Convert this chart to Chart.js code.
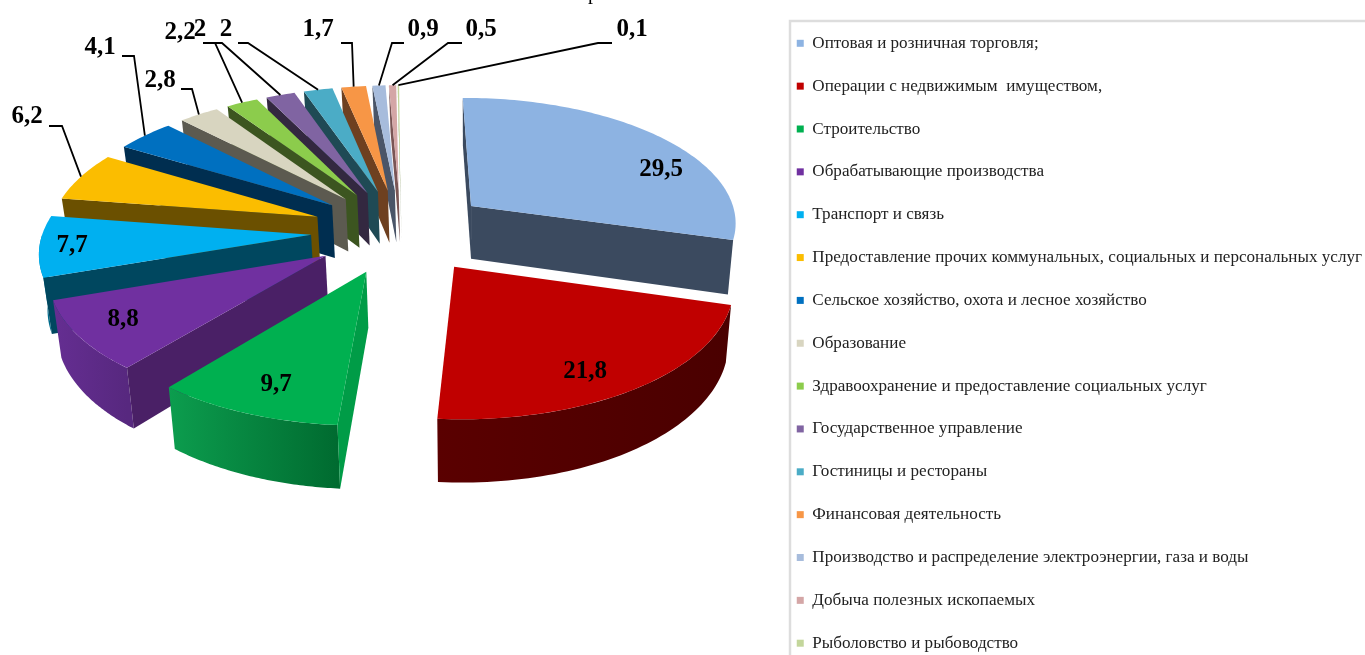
<!DOCTYPE html>
<html>
<head>
<meta charset="utf-8">
<style>
html, body { margin: 0; padding: 0; background: #fff; overflow: hidden; }
#wrap { width: 1365px; height: 655px; overflow: hidden; }
canvas { display: block; filter: blur(0.45px); }
</style>
</head>
<body>
<div id="wrap"><canvas id="chart" width="1365" height="730"></canvas></div>
<script src="https://cdn.jsdelivr.net/npm/chart.js@4"></script>
<script>
const categories = [
    'Оптовая и розничная торговля;',
    'Операции с недвижимым  имуществом,',
    'Строительство',
    'Обрабатывающие производства',
    'Транспорт и связь',
    'Предоставление прочих коммунальных, социальных и персональных услуг',
    'Сельское хозяйство, охота и лесное хозяйство',
    'Образование',
    'Здравоохранение и предоставление социальных услуг',
    'Государственное управление',
    'Гостиницы и рестораны',
    'Финансовая деятельность',
    'Производство и распределение электроэнергии, газа и воды',
    'Добыча полезных ископаемых',
    'Рыболовство и рыбоводство'
];
const shares = [29.5, 21.8, 9.7, 8.8, 7.7, 6.2, 4.1, 2.8, 2.2, 2, 2, 1.7, 0.9, 0.5, 0.1];

// цвета: верх, срез, стенка (слева/справа)
const topColors = ['#8DB3E2', '#C00000', '#00B050', '#7030A0', '#00B0F0', '#FBBD00', '#0070C0', '#D8D5C0', '#8CCC4C', '#8064A2', '#4BACC6', '#F79646', '#A7BCDC', '#D4A6A6', '#C3D69B'];
const faceColors = ['#3B4A5F', '#4A0000', '#009C47', '#4A2066', '#00475F', '#6B5000', '#002E50', '#5C5A50', '#3C5520', '#332840', '#1F4A55', '#6E4020', '#4A5568', '#7A5555', '#7A8A60'];
const wallLeft = ['#3B4A5F', '#5A0000', '#0C9D4E', '#652E92', '#0090B8', '#6B5000', '#002E50', '#5C5A50', '#3C5520', '#332840', '#1F4A55', '#6E4020', '#4A5568', '#7A5555', '#7A8A60'];
const wallRight = ['#3B4A5F', '#4A0000', '#006B30', '#57287F', '#006C8C', '#6B5000', '#002E50', '#5C5A50', '#3C5520', '#332840', '#1F4A55', '#6E4020', '#4A5568', '#7A5555', '#7A8A60'];

// подписи значений: центр текста и излом выноски (null - подпись на секторе)
const labelSpots = [[661, 170], [585, 372], [276, 385], [123, 320], [72, 246], [27, 117], [100, 48], [160, 81], [180, 33], [200, 30], [226, 30], [318, 30], [423, 30], [481, 30], [632, 30]];
const leaderRuns = [null, null, null, null, null,
    [[49, 126], [62, 126]], [[122, 56], [134, 56]], [[181, 89], [192, 89]], [[203, 43], [215, 43]], [[203, 43], [222, 43]],
    [[238, 43], [248, 43]], [[341, 43], [352, 43]], [[404, 43], [392, 43]], [[462, 43], [448, 43]], [[612, 43], [598, 43]]];

const view = { cx: 401, cy: 231, k: 0.47, p: 0.115, depth: 54, shrink: 0.98, vx: 470 };
const explode = 90;

function project(X, Y, R) {
    const s = 1 / (1 - view.p * Y / R);
    return { x: view.cx + X * s, y: view.cy + view.k * Y * s, s: s };
}

// точка сектора на верхней (drop=false) или нижней плоскости
function slicePoint(arc, angle, r, drop) {
    const mid = (arc.startAngle + arc.endAngle) / 2;
    const off = arc.options.offset;
    const X = Math.cos(mid) * off + r * Math.cos(angle);
    const Y = Math.sin(mid) * off + r * Math.sin(angle);
    const pt = project(X, Y, arc.outerRadius);
    if (!drop) return pt;
    return {
        x: view.vx + (pt.x - view.vx) * view.shrink,
        y: pt.y + view.depth * pt.s
    };
}

function fillPoly(ctx, pts, fill) {
    ctx.beginPath();
    pts.forEach((p, i) => i ? ctx.lineTo(p.x, p.y) : ctx.moveTo(p.x, p.y));
    ctx.closePath();
    ctx.fillStyle = fill;
    ctx.fill();
}

function drawCut(ctx, arc, angle, color) {
    const R = arc.outerRadius;
    fillPoly(ctx, [slicePoint(arc, angle, 0, false), slicePoint(arc, angle, R, false),
        slicePoint(arc, angle, R, true), slicePoint(arc, angle, 0, true)], color);
}

function drawSlice(ctx, arc, i) {
    const R = arc.outerRadius;
    const a0 = arc.startAngle, a1 = arc.endAngle;
    const steps = Math.max(2, Math.ceil((a1 - a0) / 0.02));

    // внешняя стенка - только передняя половина, короткий кусок у правого края не виден
    const from = Math.max(a0, 0), to = Math.min(a1, Math.PI);
    if (to - from > 0.3) {
        const upper = [], lower = [];
        for (let n = 0; n <= 60; n++) {
            const a = from + (to - from) * n / 60;
            upper.push(slicePoint(arc, a, R, false));
            lower.unshift(slicePoint(arc, a, R, true));
        }
        const xs = upper.map(p => p.x);
        const grad = ctx.createLinearGradient(Math.min(...xs), 0, Math.max(...xs), 0);
        grad.addColorStop(0, wallLeft[i]);
        grad.addColorStop(1, wallRight[i]);
        fillPoly(ctx, upper.concat(lower), grad);
    }

    // срезы, обращённые к зрителю
    if (Math.cos(a0) < 0) drawCut(ctx, arc, a0, faceColors[i]);
    if (Math.cos(a1) > 0) drawCut(ctx, arc, a1, faceColors[i]);

    // верх
    const face = [slicePoint(arc, a0, 0, false)];
    for (let n = 0; n <= steps; n++) {
        face.push(slicePoint(arc, a0 + (a1 - a0) * n / steps, R, false));
    }
    fillPoly(ctx, face, topColors[i]);
}

const pie3d = {
    id: 'pie3d',
    afterLayout(chart) {
        // рамка легенды начинается от 790 px
        const legend = chart.legend;
        const shift = 771 - legend.left;
        legend.left += shift;
        legend.right += shift;
    },
    beforeDatasetDraw(chart, args) {
        const ctx = chart.ctx;
        const arcs = chart.getDatasetMeta(args.index).data;
        const order = arcs.map((a, i) => i).sort((p, q) => {
            const mp = (arcs[p].startAngle + arcs[p].endAngle) / 2;
            const mq = (arcs[q].startAngle + arcs[q].endAngle) / 2;
            return Math.sin(mp) - Math.sin(mq);
        });
        ctx.save();
        order.forEach(i => drawSlice(ctx, arcs[i], i));
        ctx.restore();
        return false;
    },
    afterDraw(chart) {
        const ctx = chart.ctx;
        const arcs = chart.getDatasetMeta(0).data;
        ctx.save();
        // рамка легенды
        ctx.strokeStyle = '#DDDDDD';
        ctx.lineWidth = 2.5;
        ctx.strokeRect(790, 21, 700, 800);

        // выноски
        ctx.strokeStyle = '#000';
        ctx.lineWidth = 1.8;
        leaderRuns.forEach((run, i) => {
            if (!run) return;
            const arc = arcs[i];
            const mid = (arc.startAngle + arc.endAngle) / 2;
            const tip = slicePoint(arc, mid, arc.outerRadius, false);
            ctx.beginPath();
            ctx.moveTo(run[0][0], run[0][1]);
            ctx.lineTo(run[1][0], run[1][1]);
            ctx.lineTo(tip.x, tip.y);
            ctx.stroke();
        });

        // значения
        ctx.fillStyle = '#000';
        ctx.font = 'bold 25px "Liberation Serif"';
        ctx.textAlign = 'center';
        ctx.textBaseline = 'middle';
        shares.forEach((v, i) => {
            ctx.fillText(String(v).replace('.', ','), labelSpots[i][0], labelSpots[i][1]);
        });

        // хвост обрезанного заголовка
        ctx.font = '20px "Liberation Serif"';
        ctx.textBaseline = 'alphabetic';
        ctx.fillText('р', 593, -1);
        ctx.restore();
    }
};

new Chart(document.getElementById('chart').getContext('2d'), {
    type: 'pie',
    data: {
        labels: categories,
        datasets: [{
            data: shares,
            backgroundColor: topColors,
            borderWidth: 0,
            offset: explode
        }]
    },
    options: {
        responsive: false,
        animation: false,
        radius: 268,
        rotation: -0.3,
        layout: { padding: { top: 9 } },
        plugins: {
            tooltip: { enabled: false },
            legend: {
                display: true,
                position: 'right',
                align: 'start',
                labels: {
                    boxWidth: 7,
                    boxHeight: 7,
                    padding: 25.75,
                    color: '#222',
                    font: { family: '"Liberation Serif"', size: 17.1 }
                }
            }
        }
    },
    plugins: [pie3d]
});
</script>
</body>
</html>
